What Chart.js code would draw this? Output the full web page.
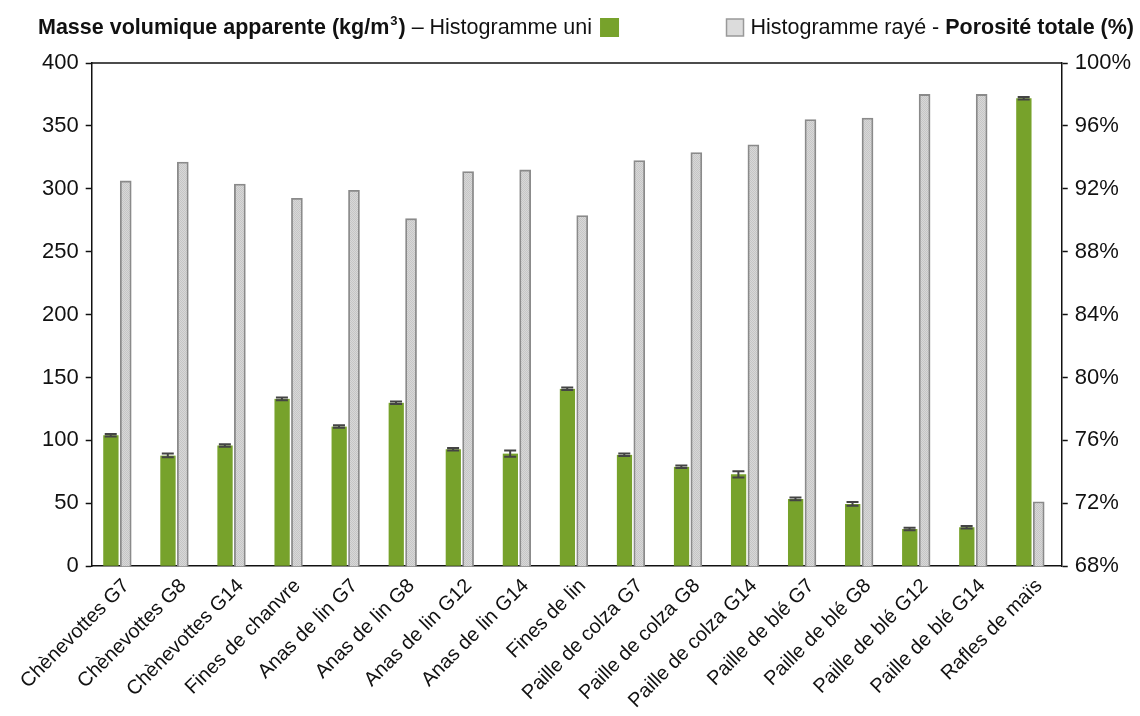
<!DOCTYPE html>
<html>
<head>
<meta charset="utf-8">
<script src="https://cdn.jsdelivr.net/npm/chart.js@4"></script>
<style>
  body { margin: 0; background: #fff; }
  canvas { display: block; }
</style>
</head>
<body>
<canvas id="myChart" width="1140" height="716"></canvas>
<script>
const FONT = '"Liberation Sans", Arial, sans-serif';

// categories (x axis)
const categories = ['Chènevottes G7', 'Chènevottes G8', 'Chènevottes G14', 'Fines de chanvre',
    'Anas de lin G7', 'Anas de lin G8', 'Anas de lin G12', 'Anas de lin G14', 'Fines de lin',
    'Paille de colza G7', 'Paille de colza G8', 'Paille de colza G14', 'Paille de blé G7',
    'Paille de blé G8', 'Paille de blé G12', 'Paille de blé G14', 'Rafles de maïs'];

// masse volumique apparente (kg/m3), axe gauche
const masseVolumique = [104, 88, 96, 133, 111, 130, 93, 89.5, 141, 88.5, 79, 73, 53.5, 49.5, 29.5, 31, 372];
const masseErreur = [1, 1.5, 1, 1, 1, 1, 1, 2.5, 1, 1, 1, 2.5, 1, 1.5, 1, 1, 1];

// porosité totale (%), axe droit
const porosite = [92.5, 93.7, 92.3, 91.4, 91.9, 90.1, 93.1, 93.2, 90.3, 93.8, 94.3, 94.8, 96.4, 96.5, 98.0, 98.0, 72.1];

// bornes des axes [min, max, pas]
const leftAxis = [0, 400, 50];
const rightAxis = [68, 100, 4];

const vert = '#77a22b';
const grisBord = '#8a8a8a';

// petite texture pointillée pour l'histogramme rayé
function makePattern() {
    const p = document.createElement('canvas');
    p.width = 2; p.height = 2;
    const pc = p.getContext('2d');
    pc.fillStyle = '#d8d8d8';
    pc.fillRect(0, 0, 2, 2);
    pc.fillStyle = '#c6c6c6';
    pc.fillRect(0, 0, 1, 1);
    pc.fillRect(1, 1, 1, 1);
    return pc.createPattern(p, 'repeat');
}

// barres d'erreur sur l'histogramme uni
const errorBars = {
    id: 'errorBars',
    afterDatasetsDraw(chart) {
        const meta = chart.getDatasetMeta(0);
        const y = chart.scales.y;
        const ctx = chart.ctx;
        ctx.save();
        ctx.strokeStyle = '#444';
        ctx.lineWidth = 2;
        meta.data.forEach((bar, i) => {
            const x = bar.x - 1;
            const top = y.getPixelForValue(masseVolumique[i] + masseErreur[i]);
            const bot = y.getPixelForValue(masseVolumique[i] - masseErreur[i]);
            ctx.beginPath();
            ctx.moveTo(x, top); ctx.lineTo(x, bot);
            ctx.moveTo(x - 6, top); ctx.lineTo(x + 6, top);
            ctx.moveTo(x - 6, bot); ctx.lineTo(x + 6, bot);
            ctx.stroke();
        });
        ctx.restore();
    }
};

// cadre du haut + légende en texte mixte
const header = {
    id: 'header',
    afterDraw(chart) {
        const ctx = chart.ctx;
        const area = chart.chartArea;
        ctx.save();
        ctx.strokeStyle = '#111';
        ctx.lineWidth = 1.5;
        ctx.beginPath();
        ctx.moveTo(area.left, area.top);
        ctx.lineTo(area.right, area.top);
        ctx.stroke();

        const size = 21.5;
        ctx.fillStyle = '#111';
        ctx.textBaseline = 'alphabetic';
        const yb = 34;
        let x = 38;
        ctx.font = 'bold ' + size + 'px ' + FONT;
        let t = 'Masse volumique apparente (kg/m';
        ctx.fillText(t, x, yb); x += ctx.measureText(t).width;
        ctx.font = 'bold 13px ' + FONT;
        ctx.fillText('3', x + 1, yb - 9); x += ctx.measureText('3').width + 2;
        ctx.font = 'bold ' + size + 'px ' + FONT;
        ctx.fillText(')', x, yb); x += ctx.measureText(')').width;
        ctx.font = size + 'px ' + FONT;
        t = ' – Histogramme uni ';
        ctx.fillText(t, x, yb); x += ctx.measureText(t).width;
        ctx.fillStyle = vert;
        ctx.fillRect(x + 2, 18, 19, 19);

        // partie droite, alignée à droite
        ctx.font = size + 'px ' + FONT;
        const t1 = 'Histogramme rayé - ';
        const w1 = ctx.measureText(t1).width;
        ctx.font = 'bold ' + size + 'px ' + FONT;
        const t2 = 'Porosité totale (%)';
        const w2 = ctx.measureText(t2).width;
        let xr = 1134 - w1 - w2;
        ctx.fillStyle = '#dcdcdc';
        ctx.fillRect(xr - 24, 19, 17, 17);
        ctx.strokeStyle = '#999';
        ctx.lineWidth = 1.5;
        ctx.strokeRect(xr - 24, 19, 17, 17);
        ctx.fillStyle = '#111';
        ctx.font = size + 'px ' + FONT;
        ctx.fillText(t1, xr, yb);
        ctx.font = 'bold ' + size + 'px ' + FONT;
        ctx.fillText(t2, xr + w1, yb);
        ctx.restore();
    }
};

const ctx = document.getElementById('myChart').getContext('2d');

const myChart = new Chart(ctx, {
    type: 'bar',
    data: {
        labels: categories,
        datasets: [{
            label: 'Masse volumique apparente (kg/m3)',
            data: masseVolumique,
            backgroundColor: vert,
            borderColor: 'rgba(0,0,0,0)',
            borderWidth: { top: 0, right: 2, bottom: 0, left: 0 },
            barThickness: 17,
            yAxisID: 'y'
        }, {
            label: 'Porosité totale (%)',
            data: porosite,
            backgroundColor: makePattern(),
            borderColor: grisBord,
            borderWidth: 1.8,
            barThickness: 11,
            yAxisID: 'y1'
        }]
    },
    options: {
        responsive: false,
        animation: false,
        layout: {
            padding: { top: 63, left: 35, right: 2, bottom: -5 }
        },
        plugins: {
            legend: { display: false },
            tooltip: { enabled: false }
        },
        scales: {
            x: {
                grid: { display: false, drawTicks: false },
                border: { display: true, color: '#111', width: 1.5 },
                ticks: {
                    autoSkip: false,
                    maxRotation: 45,
                    minRotation: 45,
                    labelOffset: 6,
                    padding: 8,
                    color: '#111',
                    font: { family: FONT, size: 20 }
                }
            },
            y: {
                position: 'left',
                min: leftAxis[0],
                max: leftAxis[1],
                ticks: {
                    stepSize: leftAxis[2],
                    padding: 7,
                    color: '#111',
                    font: { family: FONT, size: 22 }
                },
                grid: { drawOnChartArea: false, tickLength: 6, color: '#111', tickWidth: 1.5 },
                border: { display: true, color: '#111', width: 1.5 }
            },
            y1: {
                position: 'right',
                min: rightAxis[0],
                max: rightAxis[1],
                ticks: {
                    stepSize: rightAxis[2],
                    padding: 7,
                    color: '#111',
                    font: { family: FONT, size: 22 },
                    callback: function(value) {
                        return value + '%';
                    }
                },
                grid: { drawOnChartArea: false, tickLength: 6, color: '#111', tickWidth: 1.5 },
                border: { display: true, color: '#111', width: 1.5 }
            }
        }
    },
    plugins: [errorBars, header]
});
</script>
</body>
</html>
